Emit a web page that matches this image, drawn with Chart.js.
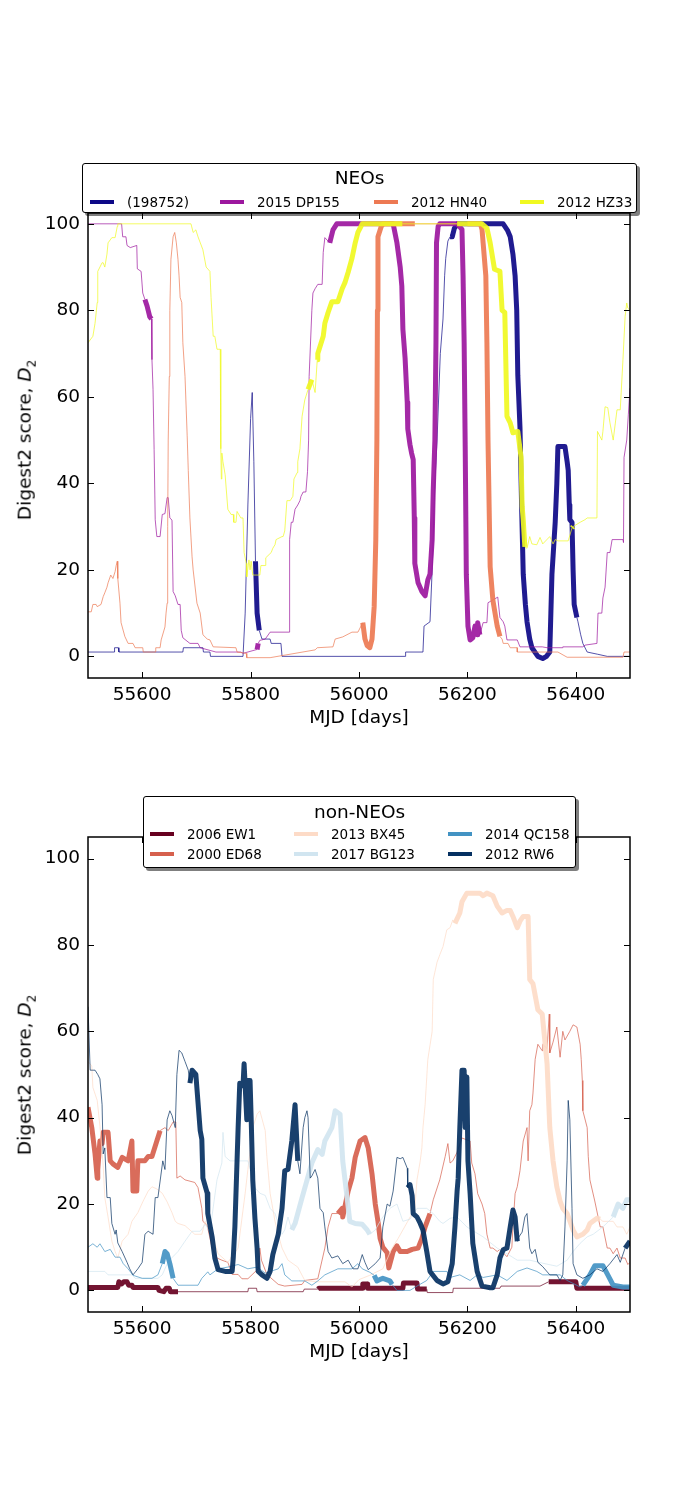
<!DOCTYPE html>
<html>
<head>
<meta charset="utf-8">
<script src="https://cdn.jsdelivr.net/npm/chart.js@4.4.0/dist/chart.umd.min.js"></script>
<style>
  body { margin: 0; background: #fff; font-family: "DejaVu Sans", sans-serif; }
  #wrap { position: relative; width: 700px; height: 1500px; }
  canvas { position: absolute; left: 0; }
  .legend { position: absolute; background: #fff; border: 1px solid #000; border-radius: 3px;
            box-shadow: 3px 3px 0 rgba(0,0,0,0.5); box-sizing: border-box; z-index: 2; }
  .ltitle { position: absolute; left: 0; right: 0; text-align: center; font-size: 18.5px; line-height: 22px; }
  .item { position: absolute; font-size: 13.5px; line-height: 16px; white-space: nowrap; }
  .item .h { display: inline-block; width: 24px; height: 4px; vertical-align: middle; margin-right: 13px; position: relative; top: -1px; }
  .ylab { position: absolute; font-size: 18.5px; white-space: nowrap; transform: translate(-50%, -50%) rotate(-90deg); }
  .ylab sub { font-size: 12px; }
</style>
</head>
<body>
<div id="wrap">
  <canvas id="neo" width="700" height="750" style="top:0"></canvas>
  <canvas id="nonneo" width="700" height="750" style="top:750px"></canvas>
  <div class="ylab" style="left:26px; top:440px">Digest2 score, <i>D</i><sub>2</sub></div>
  <div class="ylab" style="left:26px; top:1075px">Digest2 score, <i>D</i><sub>2</sub></div>
</div>
<script>
// ---- data ----
const xTicks = [55600, 55800, 56000, 56200, 56400];
const yTicks = [0, 20, 40, 60, 80, 100];

const neoNames = ['(198752)', '2015 DP155', '2012 HN40', '2012 HZ33'];
const neoColors = ['#0d0887', '#9c179e', '#ed7953', '#f0f921'];
const nonNeoNames = ['2006 EW1', '2000 ED68', '2013 BX45', '2017 BG123', '2014 QC158', '2012 RW6'];
const nonNeoColors = ['#67001f', '#d6604d', '#fddbc7', '#d1e5f0', '#4393c3', '#053061'];

// [MJD, D2] pairs, thick = observable windows [from, to]
const s198752 = [[55500,1],[55548,1],[55549,2],[55556,2],[55557,1],[55675,1],[55676,2],[55712,2],[55713,1],[55725,1],[55726,0],[55786,0],[55790,10],[55795,35],[55800,55],[55803,61],[55806,45],[55809,22],[55812,10],[55816,6],[55821,4],[55836,4],[55838,3],[55856,3],[55858,0],[56085,0],[56086,1],[56118,1],[56120,7],[56131,8],[56135,20],[56140,40],[56144,50],[56150,70],[56155,78],[56158,88],[56160,92],[56164,96],[56168,97],[56172,97],[56176,99],[56182,100],[56266,100],[56274,98.5],[56279,97],[56284,93],[56288,88],[56291,80],[56293,65],[56297,53],[56300,35],[56303,19],[56307,12],[56310,8],[56315,4],[56319,2],[56330,0],[56339,-0.5],[56346,0],[56352,1],[56354,10],[56356,19],[56360,27],[56362,31],[56365,40],[56367,48.5],[56380,48.5],[56384,45],[56386,43],[56388,35],[56389,31.6],[56393,31],[56395,20],[56397,12],[56402,9],[56404,8],[56409,5],[56413,3],[56421,1],[56440,0.5],[56458,0],[56500,0]];
const t198752 = [[55809,55816],[56168,56402]];

const sDP155 = [[55500,100],[55562,100],[55564,97],[55570,97],[55572,95],[55578,94.5],[55590,95],[55591,89.6],[55598,89],[55601,84],[55605,82.5],[55609,81],[55614,78.5],[55617,78],[55618,68.6],[55620,61.7],[55622,47.8],[55624,31.6],[55627,27.7],[55633,27.7],[55637,32.8],[55642,33],[55646,36.7],[55648,36.7],[55651,32],[55655,31.5],[55657,15],[55661,14],[55666,12],[55670,12],[55672,6],[55675,4.3],[55688,3],[55703,3],[55707,2],[55736,1],[55782,1],[55786,0.7],[55812,1.6],[55814,3],[55817,3.7],[55827,4],[55836,5.6],[55871,5.6],[55872,27],[55875,31],[55878,31],[55882,34],[55887,35],[55891,36],[55893,37],[55897,38],[55902,38],[55905,42.7],[55907,50],[55908,64.7],[55913,80],[55915,84],[55919,85],[55924,86],[55932,86],[55934,93.4],[55937,96.8],[55946,95.6],[55952,98.6],[55959,100],[56063,100],[56070,95.6],[56076,90],[56079,85.6],[56081,75.6],[56085,69],[56089,58.7],[56090,52.6],[56094,49],[56097,47],[56100,45.5],[56102,32],[56103,21.5],[56109,17],[56116,15],[56122,14],[56127,17.7],[56131,19],[56135,27],[56137,38.5],[56140,50],[56142,72.5],[56143,95.6],[56146,99.4],[56149,100],[56181,100],[56190,98.7],[56192,88],[56194,72.5],[56196,47.8],[56198,19],[56201,7],[56205,3.8],[56210,4.3],[56214,7],[56218,5],[56219,7.8],[56223,5],[56229,7.8],[56236,7.8],[56238,12.4],[56256,13.7],[56260,9],[56266,8],[56269,7],[56273,3.8],[56292,3.8],[56297,2.2],[56338,2.2],[56347,2],[56375,2],[56376,2.2],[56413,2.2],[56417,2.6],[56439,3],[56441,10],[56448,10],[56450,13.5],[56454,16],[56458,24],[56463,24],[56467,27],[56487,27],[56488,26.3],[56489,46],[56494,50],[56497,56],[56500,62]];
const tDP155 = [[55606,55616],[55811,55815],[55944,56224]];

const sHN40 = [[55500,10.3],[55506,10.3],[55509,12],[55515,12],[55517,11.5],[55524,12],[55528,13.8],[55531,14.7],[55535,16],[55537,17],[55542,18.8],[55546,18],[55550,19.6],[55552,21],[55554,22],[55555,18],[55559,12.3],[55561,7.8],[55568,4.6],[55574,3],[55583,3],[55587,2],[55601,2],[55602,1],[55624,1],[55625,2],[55633,2],[55635,3.8],[55642,6.8],[55644,10],[55646,12.3],[55647,30],[55648,50],[55650,64.7],[55651,80],[55653,91.8],[55657,97],[55660,98],[55663,95.6],[55666,91.8],[55668,88],[55670,83],[55673,81.8],[55675,72.5],[55679,64.7],[55683,51],[55685,43],[55688,32],[55692,23],[55694,20],[55701,12.3],[55707,10],[55712,5],[55720,4],[55725,3.8],[55731,2.2],[55773,2],[55775,1],[55792,0.7],[55793,-0.3],[55836,-0.3],[55919,1.5],[55923,2],[55952,2.2],[55956,4],[55970,4.5],[55987,5.6],[55998,5.6],[56007,7.8],[56011,4],[56015,2.5],[56020,2],[56024,4],[56028,11.5],[56031,27],[56033,50],[56034,80],[56035,97],[56041,99.4],[56045,100],[56103,100],[56200,100],[56224,100],[56227,98.7],[56229,95.6],[56234,88],[56236,72.5],[56238,50],[56242,20.7],[56247,13],[56255,7],[56260,4.6],[56264,4],[56266,3],[56275,3],[56279,2],[56292,2],[56292,1],[56367,1],[56384,-0.2],[56487,-0.2],[56489,1],[56500,1]];
const tHN40 = [[56005,56103],[56200,56260]];

const sHZ33 = [[55500,72.5],[55509,74],[55513,77],[55517,81.8],[55518,89],[55526,91],[55528,91],[55531,90],[55535,93],[55537,95.6],[55544,96.8],[55550,96.8],[55554,99.4],[55555,100],[55690,100],[55694,98],[55699,98.6],[55703,97],[55712,94],[55718,90],[55725,89],[55727,83],[55731,74],[55734,74],[55738,71],[55744,71],[55745,48],[55746,41],[55747,47],[55749,45],[55753,42],[55758,34],[55764,32.8],[55768,32.8],[55769,31],[55773,31],[55775,33.5],[55782,32],[55786,32],[55788,24],[55792,21.5],[55793,18.4],[55797,22.3],[55799,20],[55801,22],[55804,18.8],[55817,18.8],[55819,21],[55827,21],[55828,22.8],[55838,24],[55841,25],[55845,25.8],[55847,27],[55858,27.7],[55860,27.7],[55863,29],[55867,36],[55873,36],[55878,37],[55880,41],[55886,42.5],[55887,45],[55891,48],[55895,55.5],[55900,59.3],[55906,61.7],[55913,64],[55919,61],[55923,68.6],[55924,70],[55934,74],[55937,77],[55943,79.5],[55950,82],[55961,82],[55969,85],[55974,86.4],[55980,88.8],[55987,92],[55993,95.6],[55998,98],[56006,100],[56080,100],[56181,100],[56227,100],[56236,99],[56242,95.6],[56250,89.5],[56260,89],[56264,80],[56269,79.5],[56273,55.5],[56279,54],[56284,51.7],[56293,52],[56297,48],[56299,46],[56301,34.7],[56303,31.6],[56306,25.3],[56310,25],[56315,27.7],[56319,26],[56328,25.8],[56334,27.5],[56339,26],[56352,27.7],[56358,26],[56362,27],[56367,26.7],[56386,26.7],[56393,29.7],[56395,30],[56408,31],[56417,31.6],[56421,32],[56439,32],[56440,52],[56448,50],[56450,52],[56454,57.7],[56459,57.5],[56463,54],[56469,50],[56476,57],[56482,57],[56487,68.6],[56491,78.6],[56494,81.7],[56496,80.5],[56500,80]];
const tHZ33 = [[55905,55914],[55922,56080],[56181,56306],[56392,56396]];

const sEW1 = [[55500,0.7],[55555,0.7],[55557,2],[55562,1.5],[55566,2],[55572,2],[55575,1.2],[55581,1.2],[55583,0.7],[55629,0.7],[55631,0],[55640,-0.3],[55644,0.5],[55650,0.5],[55652,-0.3],[55666,-0.3],[55795,-0.3],[55796,0.5],[55811,0.5],[55812,-0.3],[55897,-0.3],[55899,0.3],[55924,0.3],[55926,0.5],[56006,0.5],[56007,1.5],[56015,1.5],[56016,0.5],[56081,0.5],[56082,1.7],[56107,1.7],[56108,0.3],[56125,0.3],[56126,-0.5],[56173,-0.5],[56174,0.5],[56260,0.5],[56262,1],[56334,1],[56350,2],[56400,2],[56402,0.5],[56500,0.5]];
const tEW1 = [[55500,55666],[55924,56125],[56350,56500]];

const sED68 = [[55500,42.4],[55507,37.7],[55513,31.6],[55517,26],[55518,28],[55522,34.6],[55526,34],[55528,36.6],[55537,36.6],[55541,30],[55546,29.3],[55555,28.5],[55563,30.8],[55574,30],[55581,34.6],[55583,23],[55590,23],[55592,30],[55605,30],[55611,31],[55618,31],[55627,34.6],[55633,37],[55642,37.7],[55648,37],[55657,39],[55662,39],[55664,26],[55670,26.5],[55679,25.6],[55697,25],[55703,23.8],[55710,19],[55712,16],[55720,15],[55729,9.8],[55738,7.5],[55747,7],[55758,6.5],[55766,3.7],[55777,3.7],[55784,2.7],[55795,2.7],[55814,5],[55817,9.8],[55820,7],[55830,3.7],[55851,1.4],[55863,1],[55895,1.4],[55900,2.3],[55924,2.7],[55937,9.8],[55943,14.7],[55950,17.8],[55961,17.8],[55969,19],[55970,17],[55980,23],[55987,26],[55993,30.8],[56002,34.6],[56011,35.4],[56017,33],[56024,27],[56030,20],[56035,16],[56039,12],[56044,10],[56052,8.7],[56055,5.2],[56061,8],[56063,9],[56070,10.3],[56076,9],[56089,9],[56098,9.5],[56109,9.8],[56116,12],[56122,14.7],[56131,17.8],[56137,21],[56149,25.6],[56159,31],[56164,34],[56168,29.5],[56173,30],[56181,32],[56190,35.3],[56196,35],[56205,34.6],[56208,29.5],[56214,27],[56219,22.4],[56227,20],[56232,17.8],[56236,13],[56242,9.8],[56247,9.8],[56255,9],[56260,9.5],[56273,7.8],[56282,10],[56284,14.7],[56288,22.4],[56292,24],[56297,27.7],[56303,34.6],[56310,37.7],[56312,30],[56315,41.6],[56319,43],[56321,45.7],[56325,53.5],[56330,57],[56338,55.5],[56339,57],[56347,56],[56351,64],[56352,55],[56358,57.5],[56365,61],[56371,54],[56376,60],[56380,58],[56389,60],[56395,61.5],[56402,61],[56408,57],[56410,53.5],[56412,48.6],[56413,41.6],[56421,37.7],[56423,31],[56426,25.6],[56435,20.7],[56445,14.7],[56450,14.7],[56458,9.8],[56463,9.8],[56469,8.5],[56476,9.8],[56482,7.5],[56491,7.5],[56496,6],[56500,6.5]];
const tED68 = [[55500,55636],[55961,56131]];

const sBX45 = [[55500,53],[55507,52],[55509,47],[55517,44],[55522,38],[55528,28.9],[55531,21.5],[55537,17],[55544,11.4],[55550,9],[55555,7.5],[55563,11.4],[55574,13],[55581,16],[55592,18],[55601,20.5],[55611,23],[55618,24],[55627,23.5],[55637,22.5],[55646,20.5],[55655,18],[55661,16],[55666,15.5],[55679,15],[55697,13],[55710,13],[55716,16],[55729,13],[55740,8.5],[55758,6.5],[55777,9.8],[55790,22.5],[55795,28],[55804,37.7],[55812,40.8],[55817,41.6],[55827,37],[55830,31],[55836,22.5],[55845,16],[55851,13],[55858,9.8],[55869,7],[55887,5.4],[55900,2.3],[55924,2],[55974,2],[55987,0.8],[56000,2.5],[56020,3.5],[56044,5],[56061,9.8],[56072,12],[56090,16],[56103,19],[56107,25.6],[56113,30],[56116,33],[56118,37.7],[56122,43],[56125,49.4],[56127,53.5],[56135,60],[56137,72],[56144,76],[56149,77.7],[56155,79.6],[56162,83.5],[56168,84],[56173,85.8],[56177,85],[56186,87.4],[56190,90],[56199,92],[56223,92],[56229,91.4],[56236,92],[56247,91.4],[56255,89],[56264,87.4],[56273,88],[56279,88],[56284,86.6],[56292,84],[56297,85.5],[56303,86.6],[56312,86.6],[56315,72],[56321,71],[56330,65],[56338,64],[56347,52.5],[56352,37.7],[56358,30],[56365,24],[56371,20.7],[56376,19],[56384,17.8],[56395,14],[56402,12.4],[56413,13],[56421,14],[56426,15.5],[56439,16.7],[56445,16.5],[56450,16],[56469,16],[56476,14.7],[56487,14.7],[56494,13],[56500,14.7]];
const tBX45 = [[56177,56445]];

const sBG123 = [[55500,4.4],[55531,4.4],[55537,3.6],[55581,3.6],[55587,2.8],[55629,2.8],[55637,3.6],[55648,6.7],[55666,9],[55679,11.4],[55692,13.7],[55707,13.7],[55716,15.3],[55725,13.7],[55738,25.6],[55747,29.5],[55749,36.6],[55753,31],[55762,30],[55795,30],[55808,23.8],[55817,22.5],[55827,22],[55836,19],[55845,17.8],[55858,13],[55863,14],[55869,17],[55876,14],[55882,15.5],[55895,21.5],[55913,29.5],[55924,32.6],[55932,31.5],[55937,34.6],[55950,37.7],[55956,41.6],[55965,40.8],[55970,30],[55978,21.5],[55983,16],[55993,15.5],[56006,15.3],[56015,14],[56020,13],[56030,14],[56039,16],[56044,17],[56057,19],[56070,20],[56081,16],[56094,16.5],[56107,19],[56125,19],[56137,17.8],[56149,16],[56155,15.5],[56168,16.7],[56181,17],[56199,14.7],[56229,12.4],[56255,9.8],[56273,8.5],[56292,7],[56315,7],[56339,6.3],[56365,5.6],[56384,7],[56395,9],[56408,10.9],[56421,12.4],[56432,13],[56450,14.7],[56469,17],[56478,20],[56487,19],[56494,21],[56500,21]];
const tBG123 = [[55876,56020],[56466,56500]];

const sQC158 = [[55500,10],[55509,10.8],[55517,10],[55522,10.8],[55531,9],[55541,9.5],[55550,7.7],[55559,7.7],[55565,6.2],[55574,5],[55583,3.5],[55600,2.8],[55618,2.8],[55629,3.6],[55637,6.2],[55642,9],[55646,8.5],[55651,6.2],[55657,2.8],[55666,1.2],[55703,1.2],[55710,2.8],[55716,3.6],[55721,4.3],[55725,3.6],[55740,5],[55758,5.4],[55777,6],[55795,5],[55812,5.4],[55827,4],[55851,5],[55858,6.2],[55863,3.6],[55876,2.2],[55900,2.2],[55913,1.2],[55924,2.2],[55937,3.6],[55961,5],[55987,5],[55998,6.2],[56006,5],[56020,4.2],[56028,3.5],[56033,2.2],[56044,2.8],[56057,2.2],[56061,1.4],[56070,0],[56094,0],[56107,1],[56125,2.3],[56137,4.4],[56162,4.4],[56168,3],[56186,3.6],[56205,2.3],[56218,3.6],[56229,3],[56255,3.6],[56273,2.3],[56292,4.4],[56310,5.2],[56328,4.4],[56339,3.6],[56371,3.6],[56384,2.3],[56408,0.8],[56413,1.2],[56426,3.6],[56435,5.7],[56450,5.7],[56459,3.6],[56469,1.2],[56487,0.8],[56500,0.8]];
const tQC158 = [[55635,55658],[56030,56062],[56412,56500]];

const sRW6 = [[55500,65.7],[55504,51],[55513,51],[55518,50],[55522,49],[55526,43],[55528,31.6],[55531,33],[55535,21.5],[55541,21.5],[55544,15.5],[55550,13],[55552,14],[55555,11],[55563,9],[55572,6.5],[55577,5],[55583,3.6],[55592,5],[55600,6.5],[55605,13],[55611,13.7],[55620,13],[55624,21.5],[55629,21.5],[55638,30],[55642,28],[55646,39.5],[55651,41.6],[55655,40.5],[55661,37.7],[55664,50],[55668,55.6],[55673,55],[55679,53],[55685,51],[55688,48],[55692,51],[55699,50],[55707,37],[55710,35],[55712,26],[55720,22.5],[55721,17.8],[55729,12.4],[55734,7.5],[55740,4.8],[55753,4.4],[55766,4.4],[55768,7.5],[55771,14.7],[55775,30],[55777,37.7],[55780,48],[55786,47.4],[55788,52.5],[55793,39.5],[55795,48.6],[55799,48.6],[55801,40],[55804,25.6],[55808,16.7],[55812,9.8],[55814,4.4],[55821,3.6],[55830,2.8],[55836,4.4],[55841,8.3],[55851,13],[55858,19],[55863,27.7],[55869,28],[55876,34.6],[55882,43],[55887,30],[55891,27],[55897,37.7],[55900,40],[55904,41.6],[55906,40],[55910,26],[55913,26.5],[55919,28],[55924,26],[55928,19],[55934,18],[55937,14.7],[55943,9],[55950,7.5],[55961,8],[55970,6.2],[55980,7],[55989,5],[55998,5],[56006,8.3],[56011,6.5],[56017,4.8],[56030,6.2],[56039,7.5],[56044,14.7],[56052,20],[56057,19.5],[56063,23],[56070,30.8],[56076,30.5],[56081,30.8],[56089,28.3],[56090,23.8],[56094,24.5],[56098,22],[56100,17.8],[56107,17],[56113,15.5],[56118,14],[56125,9],[56131,4.4],[56144,2.3],[56155,1.5],[56164,2],[56172,6.2],[56177,14.7],[56181,23],[56183,26],[56186,37.7],[56190,51],[56194,51],[56196,37.7],[56199,49.4],[56201,30],[56205,22.5],[56210,10.9],[56218,4.4],[56227,1],[56242,0.6],[56247,0.6],[56255,3.6],[56260,7.5],[56266,9.4],[56273,9.8],[56279,14.7],[56284,18.6],[56288,17],[56292,11.4],[56293,12],[56301,13.5],[56306,17],[56310,17.8],[56315,9.8],[56319,8.5],[56325,9.5],[56330,6.5],[56339,5.5],[56352,3.6],[56365,3.6],[56371,2.3],[56376,3.6],[56380,14.7],[56384,30],[56386,44],[56389,39.5],[56393,19],[56395,6.2],[56402,3.6],[56413,2.8],[56426,3.6],[56439,5],[56450,4.4],[56463,6.2],[56476,8.3],[56482,6.5],[56491,9.8],[56500,11.4]];
const tRW6 = [[55690,55888],[56090,56292],[56489,56500]];

// ---- helpers ----
function rgba(hex, a) {
  const n = parseInt(hex.slice(1), 16);
  return `rgba(${n >> 16},${(n >> 8) & 255},${n & 255},${a})`;
}

// a segment is thick when its middle falls in an observable window
function inThick(ranges, x0, x1) {
  const m = (x0 + x1) / 2;
  return ranges.some(r => m >= r[0] && m <= r[1]);
}

function makeSet(label, color, pts, thick, order) {
  const isThick = c => inThick(thick, pts[c.p0DataIndex][0], pts[c.p1DataIndex][0]);
  return {
    label: label,
    data: pts.map(p => ({x: p[0], y: p[1]})),
    borderColor: rgba(color, 0.7),
    borderWidth: 1,
    pointRadius: 0,
    tension: 0,
    fill: false,
    order: order,
    borderJoinStyle: 'round',
    segment: {
      borderWidth: c => isThick(c) ? 5 : 1,
      borderColor: c => isThick(c) ? rgba(color, 0.92) : rgba(color, 0.7)
    }
  };
}

// inward ticks on all four sides plus the box round the axes
const framePlugin = {
  id: 'frame',
  afterDatasetsDraw(chart) {
    const {ctx, chartArea: a, scales: {x, y}} = chart;
    ctx.save();
    ctx.strokeStyle = '#000';
    ctx.lineWidth = 1;
    ctx.beginPath();
    x.ticks.forEach(t => {
      const px = Math.round(x.getPixelForValue(t.value)) + 0.5;
      ctx.moveTo(px, a.bottom); ctx.lineTo(px, a.bottom - 6);
      ctx.moveTo(px, a.top); ctx.lineTo(px, a.top + 6);
    });
    y.ticks.forEach(t => {
      const py = Math.round(y.getPixelForValue(t.value)) + 0.5;
      ctx.moveTo(a.left, py); ctx.lineTo(a.left + 6, py);
      ctx.moveTo(a.right, py); ctx.lineTo(a.right - 6, py);
    });
    ctx.stroke();
    ctx.lineWidth = 1.5;
    ctx.strokeRect(a.left, a.top, a.right - a.left, a.bottom - a.top);
    ctx.restore();
  }
};

function makeChart(id, datasets, yMax, padTop, padBottom) {
  return new Chart(document.getElementById(id), {
    type: 'line',
    data: {datasets: datasets},
    options: {
      responsive: false,
      animation: false,
      events: [],
      layout: {padding: {left: 0, right: 70, top: padTop, bottom: padBottom}},
      plugins: {legend: {display: false}, tooltip: {enabled: false}},
      scales: {
        x: {
          type: 'linear', min: 55500, max: 56500,
          afterBuildTicks: s => { s.ticks = xTicks.map(v => ({value: v})); },
          afterFit: s => { s.height = 72; },
          grid: {display: false, drawTicks: false}, border: {display: false},
          ticks: {color: '#000', font: {family: 'DejaVu Sans', size: 18.5}, padding: 6,
                  maxRotation: 0, callback: v => String(v)},
          title: {display: true, text: 'MJD [days]', color: '#000',
                  font: {family: 'DejaVu Sans', size: 18.5}, padding: {top: 0, bottom: 21}}
        },
        y: {
          type: 'linear', min: -5, max: yMax,
          afterBuildTicks: s => { s.ticks = yTicks.map(v => ({value: v})); },
          afterFit: s => { s.width = 88; },
          grid: {display: false, drawTicks: false}, border: {display: false},
          ticks: {color: '#000', font: {family: 'DejaVu Sans', size: 18.5}, padding: 8,
                  callback: v => String(v)}
        }
      }
    },
    plugins: [framePlugin]
  });
}

// later series drawn on top, as in the original figure
const neoSeries = [[s198752, t198752], [sDP155, tDP155], [sHN40, tHN40], [sHZ33, tHZ33]];
const nonNeoSeries = [[sEW1, tEW1], [sED68, tED68], [sBX45, tBX45], [sBG123, tBG123], [sQC158, tQC158], [sRW6, tRW6]];

makeChart('neo',
  neoSeries.map((s, i) => makeSet(neoNames[i], neoColors[i], s[0], s[1], neoSeries.length - i)),
  102.5, 213, 0);
makeChart('nonneo',
  nonNeoSeries.map((s, i) => makeSet(nonNeoNames[i], nonNeoColors[i], s[0], s[1], nonNeoSeries.length - i)),
  105, 87, 116);

// ---- legends (matplotlib style boxes) ----
function addLegend(title, names, colors, box, cols, rows) {
  const wrap = document.getElementById('wrap');
  const div = document.createElement('div');
  div.className = 'legend';
  Object.assign(div.style, {left: box[0] + 'px', top: box[1] + 'px', width: box[2] + 'px', height: box[3] + 'px'});
  const t = document.createElement('div');
  t.className = 'ltitle';
  t.style.top = box[4] + 'px';
  t.textContent = title;
  div.appendChild(t);
  names.forEach((name, i) => {
    const col = Math.floor(i / rows.length), row = i % rows.length;
    const it = document.createElement('div');
    it.className = 'item';
    it.style.left = cols[col] + 'px';
    it.style.top = rows[row] + 'px';
    const h = document.createElement('span');
    h.className = 'h';
    h.style.background = colors[i];
    it.appendChild(h);
    it.appendChild(document.createTextNode(name));
    div.appendChild(it);
  });
  wrap.appendChild(div);
}

addLegend('NEOs', neoNames, neoColors, [82, 163, 555, 50, 3], [7, 137, 291, 437], [30]);
addLegend('non-NEOs', nonNeoNames, nonNeoColors, [143, 796, 433, 72, 4], [6, 150, 304], [29, 49]);
</script>
</body>
</html>
